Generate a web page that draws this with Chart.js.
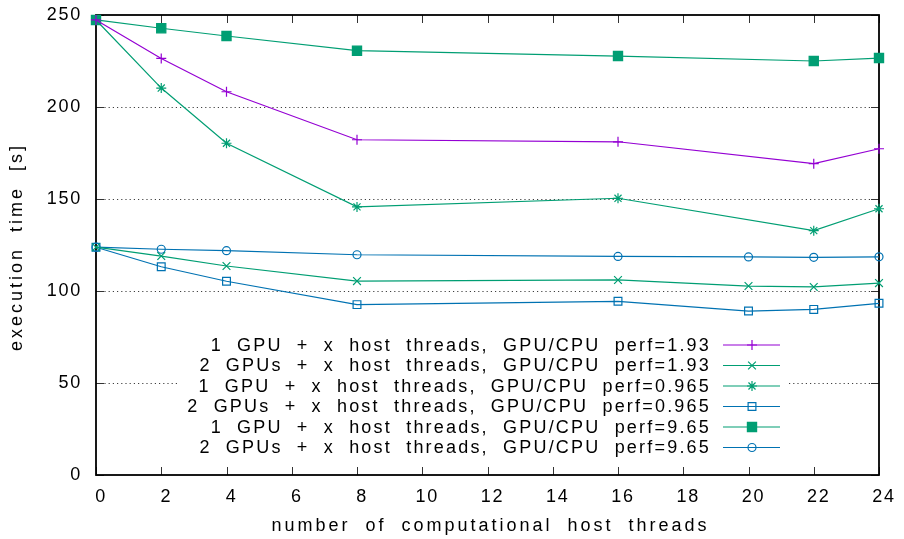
<!DOCTYPE html>
<html>
<head>
<meta charset="utf-8">
<script src="https://cdn.jsdelivr.net/npm/chart.js"></script>
<style>
body { margin: 0; background: #fff; }
#wrap { width: 904px; height: 539px; }
#wrap canvas { display: block; }
</style>
</head>
<body>
<div id="wrap"><canvas id="timing" width="904" height="539"></canvas></div>
<script>
// thread counts measured per configuration
const threadsA = [0, 2, 4, 8, 16, 22, 24];
const threadsB = [0, 2, 4, 8, 16, 20, 22, 24];

// execution time [s]
const oneGpuPerf193 = [247.3, 226.4, 208.3, 182.2, 181.1, 169.2, 177.3];
const twoGpuPerf193 = [123.8, 119.0, 113.6, 105.4, 106.0, 102.7, 102.2, 104.3];
const oneGpuPerf0965 = [247.3, 210.3, 180.3, 145.7, 150.4, 132.8, 144.7];
const twoGpuPerf0965 = [123.8, 113.2, 105.3, 92.6, 94.4, 89.1, 90.0, 93.3];
const oneGpuPerf965 = [247.3, 242.8, 238.6, 230.6, 227.7, 225.0, 226.6];
const twoGpuPerf965 = [123.8, 122.7, 121.9, 119.7, 118.8, 118.5, 118.3, 118.6];

const seriesLabels = [
    '1 GPU + x host threads, GPU/CPU perf=1.93',
    '2 GPUs + x host threads, GPU/CPU perf=1.93',
    '1 GPU + x host threads, GPU/CPU perf=0.965',
    '2 GPUs + x host threads, GPU/CPU perf=0.965',
    '1 GPU + x host threads, GPU/CPU perf=9.65',
    '2 GPUs + x host threads, GPU/CPU perf=9.65'
];
const xTicks = [0, 2, 4, 6, 8, 10, 12, 14, 16, 18, 20, 22, 24];
const yTicks = [0, 50, 100, 150, 200, 250];
const xTitle = 'number of computational host threads';
const yTitle = 'execution time [s]';

const PURPLE = '#9400d3';
const GREEN = '#009e73';
const BLUE = '#0072b2';
const FONT = '"Liberation Sans", Arial, sans-serif';

const pts = (xs, ys) => xs.map((x, i) => ({ x, y: ys[i] }));

function series(label, xs, ys, color, style, radius, filled) {
    return {
        label,
        data: pts(xs, ys),
        borderColor: color,
        backgroundColor: filled ? color : 'rgba(0,0,0,0)',
        borderWidth: 1.2,
        pointStyle: style,
        pointRadius: radius,
        pointBorderColor: color,
        pointBackgroundColor: filled ? color : 'rgba(0,0,0,0)',
        pointBorderWidth: 1.2,
        tension: 0,
        clip: false
    };
}

const datasets = [
    series(seriesLabels[0], threadsA, oneGpuPerf193, PURPLE, 'cross', 5, false),
    series(seriesLabels[1], threadsB, twoGpuPerf193, GREEN, 'crossRot', 5.5, false),
    series(seriesLabels[2], threadsA, oneGpuPerf0965, GREEN, 'star', 5, false),
    series(seriesLabels[3], threadsB, twoGpuPerf0965, BLUE, 'rect', 5.5, false),
    series(seriesLabels[4], threadsA, oneGpuPerf965, GREEN, 'rect', 6.5, true),
    series(seriesLabels[5], threadsB, twoGpuPerf965, BLUE, 'circle', 4, false)
];

function spaced(ctx, letter, word) {
    ctx.letterSpacing = letter + 'px';
    ctx.wordSpacing = word + 'px';
}

// gnuplot-like frame: dotted y grid, closed border, inward ticks, key box, titles
const gnuFrame = {
    id: 'gnuFrame',
    beforeDraw(chart) {
        spaced(chart.ctx, 1.7, 0);
    },
    beforeDatasetsDraw(chart) {
        const { ctx, chartArea: a, scales } = chart;
        ctx.save();
        ctx.strokeStyle = 'rgba(0,0,0,0.75)';
        ctx.lineWidth = 1;
        ctx.setLineDash([1.2, 3]);
        yTicks.forEach(v => {
            if (v === 0 || v === 250) return;
            const y = Math.round(scales.y.getPixelForValue(v)) + 0.5;
            ctx.beginPath();
            ctx.moveTo(a.left, y);
            ctx.lineTo(a.right, y);
            ctx.stroke();
        });
        ctx.setLineDash([]);
        ctx.strokeStyle = '#333';
        xTicks.forEach(v => {
            const x = Math.round(scales.x.getPixelForValue(v)) + 0.5;
            ctx.beginPath();
            ctx.moveTo(x, a.bottom); ctx.lineTo(x, a.bottom - 8);
            ctx.moveTo(x, a.top); ctx.lineTo(x, a.top + 8);
            ctx.stroke();
        });
        yTicks.forEach(v => {
            const y = Math.round(scales.y.getPixelForValue(v)) + 0.5;
            ctx.beginPath();
            ctx.moveTo(a.left, y); ctx.lineTo(a.left + 8, y);
            ctx.moveTo(a.right, y); ctx.lineTo(a.right - 8, y);
            ctx.stroke();
        });
        ctx.strokeStyle = '#000';
        ctx.lineWidth = 1.8;
        ctx.strokeRect(a.left, a.top, a.right - a.left, a.bottom - a.top);
        ctx.restore();
    },
    afterDatasetsDraw(chart) {
        const { ctx, chartArea: a } = chart;
        const rowY = [345, 365.5, 386, 406.5, 427, 447.5];
        ctx.save();
        ctx.fillStyle = '#fff';
        ctx.fillRect(178, 334, 608, 124);
        ctx.font = `18px ${FONT}`;
        spaced(ctx, 2.2, 7);
        ctx.textAlign = 'right';
        ctx.textBaseline = 'middle';
        chart.data.datasets.forEach((ds, i) => {
            const y = rowY[i];
            ctx.fillStyle = '#000';
            ctx.fillText(ds.label, 711, y + 1);
            ctx.strokeStyle = ds.borderColor;
            ctx.lineWidth = 1.2;
            ctx.beginPath();
            ctx.moveTo(723, y);
            ctx.lineTo(780, y);
            ctx.stroke();
            ctx.fillStyle = ds.pointBackgroundColor;
            Chart.helpers.drawPoint(ctx, {
                pointStyle: ds.pointStyle,
                radius: ds.pointRadius,
                borderWidth: ds.pointBorderWidth,
                rotation: 0
            }, 752, y);
        });

        // axis titles
        ctx.fillStyle = '#000';
        ctx.textAlign = 'center';
        spaced(ctx, 3, 7);
        ctx.fillText(xTitle, (a.left + a.right) / 2 + 3, 526);
        ctx.translate(17, (a.top + a.bottom) / 2 + 2);
        ctx.rotate(-Math.PI / 2);
        ctx.fillText(yTitle, 0, 0);
        ctx.restore();
    }
};

const canvas = document.getElementById('timing');
spaced(canvas.getContext('2d'), 1.7, 0);

new Chart(canvas, {
    type: 'line',
    data: { datasets },
    options: {
        responsive: false,
        animation: false,
        devicePixelRatio: 1,
        layout: { padding: { top: 15, right: 25, left: 0, bottom: 0 } },
        scales: {
            x: {
                type: 'linear',
                min: 0, max: 24,
                afterFit: (s) => { s.height = 64; s.paddingLeft = 0; s.paddingRight = 0; },
                afterBuildTicks: (s) => { s.ticks = xTicks.map(v => ({ value: v })); },
                grid: { display: false, drawTicks: false },
                border: { display: false },
                ticks: { padding: 11, labelOffset: 5, color: '#000', font: { family: FONT, size: 18 }, maxRotation: 0 }
            },
            y: {
                min: 0, max: 250,
                afterFit: (s) => { s.width = 96; s.paddingTop = 0; s.paddingBottom = 0; },
                afterBuildTicks: (s) => { s.ticks = yTicks.map(v => ({ value: v })); },
                grid: { display: false, drawTicks: false },
                border: { display: false },
                ticks: { padding: 14, color: '#000', font: { family: FONT, size: 18 } }
            }
        },
        plugins: {
            legend: { display: false },
            tooltip: { enabled: false }
        }
    },
    plugins: [gnuFrame]
});
</script>
</body>
</html>
